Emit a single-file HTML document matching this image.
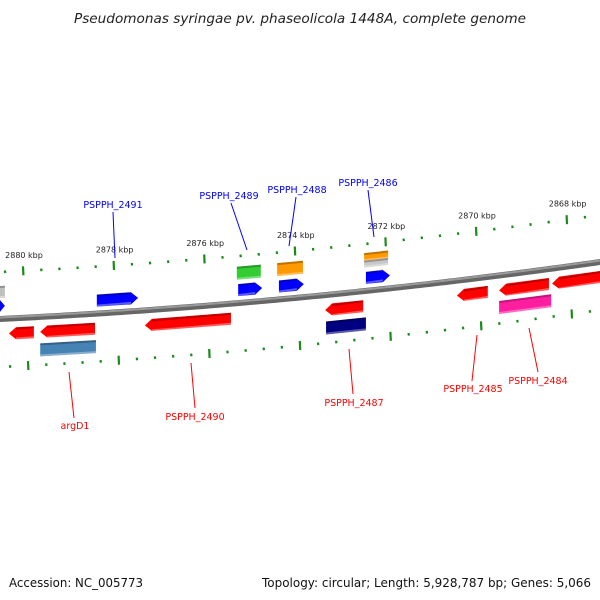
<!DOCTYPE html>
<html><head><meta charset="utf-8"><style>
body{margin:0;background:#fff}
svg{display:block}
text{font-family:"DejaVu Sans","Liberation Sans",sans-serif}
</style></head><body>
<svg id="map" width="600" height="600" viewBox="0 0 600 600" xmlns="http://www.w3.org/2000/svg">
<rect width="600" height="600" fill="#fff"/>
<text x="74" y="23" textLength="452" lengthAdjust="spacingAndGlyphs" font-size="13.6" font-style="italic" fill="#222">Pseudomonas syringae pv. phaseolicola 1448A, complete genome</text>
<text x="9" y="587" textLength="134" lengthAdjust="spacingAndGlyphs" font-size="12.5" fill="#111">Accession: NC_005773</text>
<text x="262" y="587" textLength="329" lengthAdjust="spacingAndGlyphs" font-size="12.5" fill="#111">Topology: circular; Length: 5,928,787 bp; Genes: 5,066</text>
<g id="ticks"></g><g id="backbone"></g><g id="genes"></g><g id="labels"></g>
</svg>
<script>
const tickKbp=[2880,2878,2876,2874,2872,2870,2868];
const geneNames=["blue-a","PSPPH_2491","PSPPH_2489","PSPPH_2488","PSPPH_2486","green-a","orange-a","orange-b","gray-b","gray-a","red-a","argD1","PSPPH_2490","PSPPH_2487","PSPPH_2485","red-b","red-c","steelblue-a","navy-a","PSPPH_2484"];
const geneStart=[2880.73,2878.37,2875.25,2874.35,2872.43,2875.28,2874.39,2872.47,2872.47,2880.73,2880.31,2879.62,2877.31,2873.33,2870.42,2869.49,2868.32,2879.62,2873.31,2869.49];
const geneEnd=[2880.40,2877.46,2874.72,2873.80,2871.90,2874.75,2873.82,2871.94,2871.94,2880.40,2879.76,2878.41,2875.41,2872.49,2869.74,2868.39,2867.04,2878.39,2872.43,2868.34];
const geneStrand=[1,1,1,1,1,0,0,0,0,0,-1,-1,-1,-1,-1,-1,-1,0,0,0];
const geneRow=[-13,-13,-13,-13,-13,-30,-30,-34,-27,-27,15,15,15,15,15,15,15,33,33,32];
const geneColor=["#0000ff","#0000ff","#0000ff","#0000ff","#0000ff","#33cc33","#ff9900","#ff9900","#c8c8c8","#c0c0c0","#ff0000","#ff0000","#ff0000","#ff0000","#ff0000","#ff0000","#ff0000","#4682b4","#000080","#ff1ea0"];
const geneH=[12,12,12,12,12,13,13,8,7,12,12,12,12,12,12,12,12,13,13,13];
const labelNames=["PSPPH_2491","PSPPH_2489","PSPPH_2488","PSPPH_2486","argD1","PSPPH_2490","PSPPH_2487","PSPPH_2485","PSPPH_2484"];
const labelX=[113,229,297,368,75,195,354,473,538];
const labelY=[208,199,193,186,429,420,406,392,384];
const labelColor=["#0000ff","#0000ff","#0000ff","#0000ff","#ff0000","#ff0000","#ff0000","#ff0000","#ff0000"];
const lineFrom=[[113,212],[231,203],[296,197],[368,190],[69,372],[191,363],[349,349],[477,335],[529,328]];
const lineTo=[[115,258],[247,250],[289,246],[374,237],[74,418],[195,408],[353,394],[472,381],[538,372]];

const NS="http://www.w3.org/2000/svg";
function xs(k){return 23+(2880-k)*45.3;}
function by(x){return -7.78e-5*x*x-0.0483*x+319;}
function mk(tag,attrs,parent){const e=document.createElementNS(NS,tag);for(const a in attrs)e.setAttribute(a,attrs[a]);parent.appendChild(e);return e;}
const G=id=>document.getElementById(id);

let d="";for(let x=-5;x<=605;x+=5)d+=(x===-5?"M":"L")+x+","+by(x).toFixed(2);
const bb1=mk("path",{d:d,stroke:"#666",fill:"none","stroke-width":6},G("backbone"));


const bb2=mk("path",{d:d,stroke:"#9a9a9a",fill:"none","stroke-width":2,transform:"translate(0,-1.5)"},G("backbone"));



for(let i=0;i<40;i++){
  const kk=Math.round((2880.8-i*0.4)*10)/10;
  const major=Math.abs(kk/2-Math.round(kk/2))<0.01;
  const x=xs(kk);
  [-47,48].forEach((off,j)=>{
    const xx=j?x+5:x;
    const y=by(xx)+off;
    const t=mk("line",{x1:xx,y1:y-(major?4.5:1.3),x2:xx+0.4,y2:y+(major?4.5:1.3),stroke:"#1a8a1a","stroke-width":2.2},G("ticks"));
    
    
  });
}
tickKbp.forEach(k=>{
  const x=xs(k);
  const t=mk("text",{x:x+1,y:by(x)-60,"font-size":8,"text-anchor":"middle",fill:"#222"},G("ticks"));
  t.textContent=k+" kbp";
  
  
});

geneNames.forEach((n,i)=>{
  const x1=xs(geneStart[i]),x2=xs(geneEnd[i]);
  const h=geneH[i],off=geneRow[i],s=geneStrand[i],ah=Math.min(7,(x2-x1)/3);
  const yT=x=>by(x)+off-h/2,yB=x=>by(x)+off+h/2,yM=x=>by(x)+off;
  let pts;
  if(s===1)pts=[[x1,yT(x1)],[x2-ah,yT(x2-ah)],[x2,yM(x2)],[x2-ah,yB(x2-ah)],[x1,yB(x1)]];
  else if(s===-1)pts=[[x1+ah,yT(x1+ah)],[x2,yT(x2)],[x2,yB(x2)],[x1+ah,yB(x1+ah)],[x1,yM(x1)]];
  else pts=[[x1,yT(x1)],[x2,yT(x2)],[x2,yB(x2)],[x1,yB(x1)]];
  const g=mk("g",{},G("genes"));
  
  
  mk("polygon",{points:pts.map(p=>p.join(",")).join(" "),fill:geneColor[i]},g);
  const a=s===-1?ah:0,b=s===1?ah:0;
  mk("polygon",{points:[[x1+a,yT(x1)],[x2-b,yT(x2)],[x2-b,yT(x2)+2],[x1+a,yT(x1)+2]].map(p=>p.join(",")).join(" "),fill:"#000",opacity:0.25},g);
  mk("polygon",{points:[[x1+a,yB(x1)-2],[x2-b,yB(x2)-2],[x2-b,yB(x2)],[x1+a,yB(x1)]].map(p=>p.join(",")).join(" "),fill:"#fff",opacity:0.35},g);
});

labelNames.forEach((n,i)=>{
  const l=mk("line",{x1:lineFrom[i][0],y1:lineFrom[i][1],x2:lineTo[i][0],y2:lineTo[i][1],stroke:labelColor[i],"stroke-width":1},G("labels"));
  
  
  const t=mk("text",{x:labelX[i],y:labelY[i],"font-size":9.5,"text-anchor":"middle",fill:labelColor[i]},G("labels"));
  t.textContent=n;
  
  
});
</script>
</body></html>
